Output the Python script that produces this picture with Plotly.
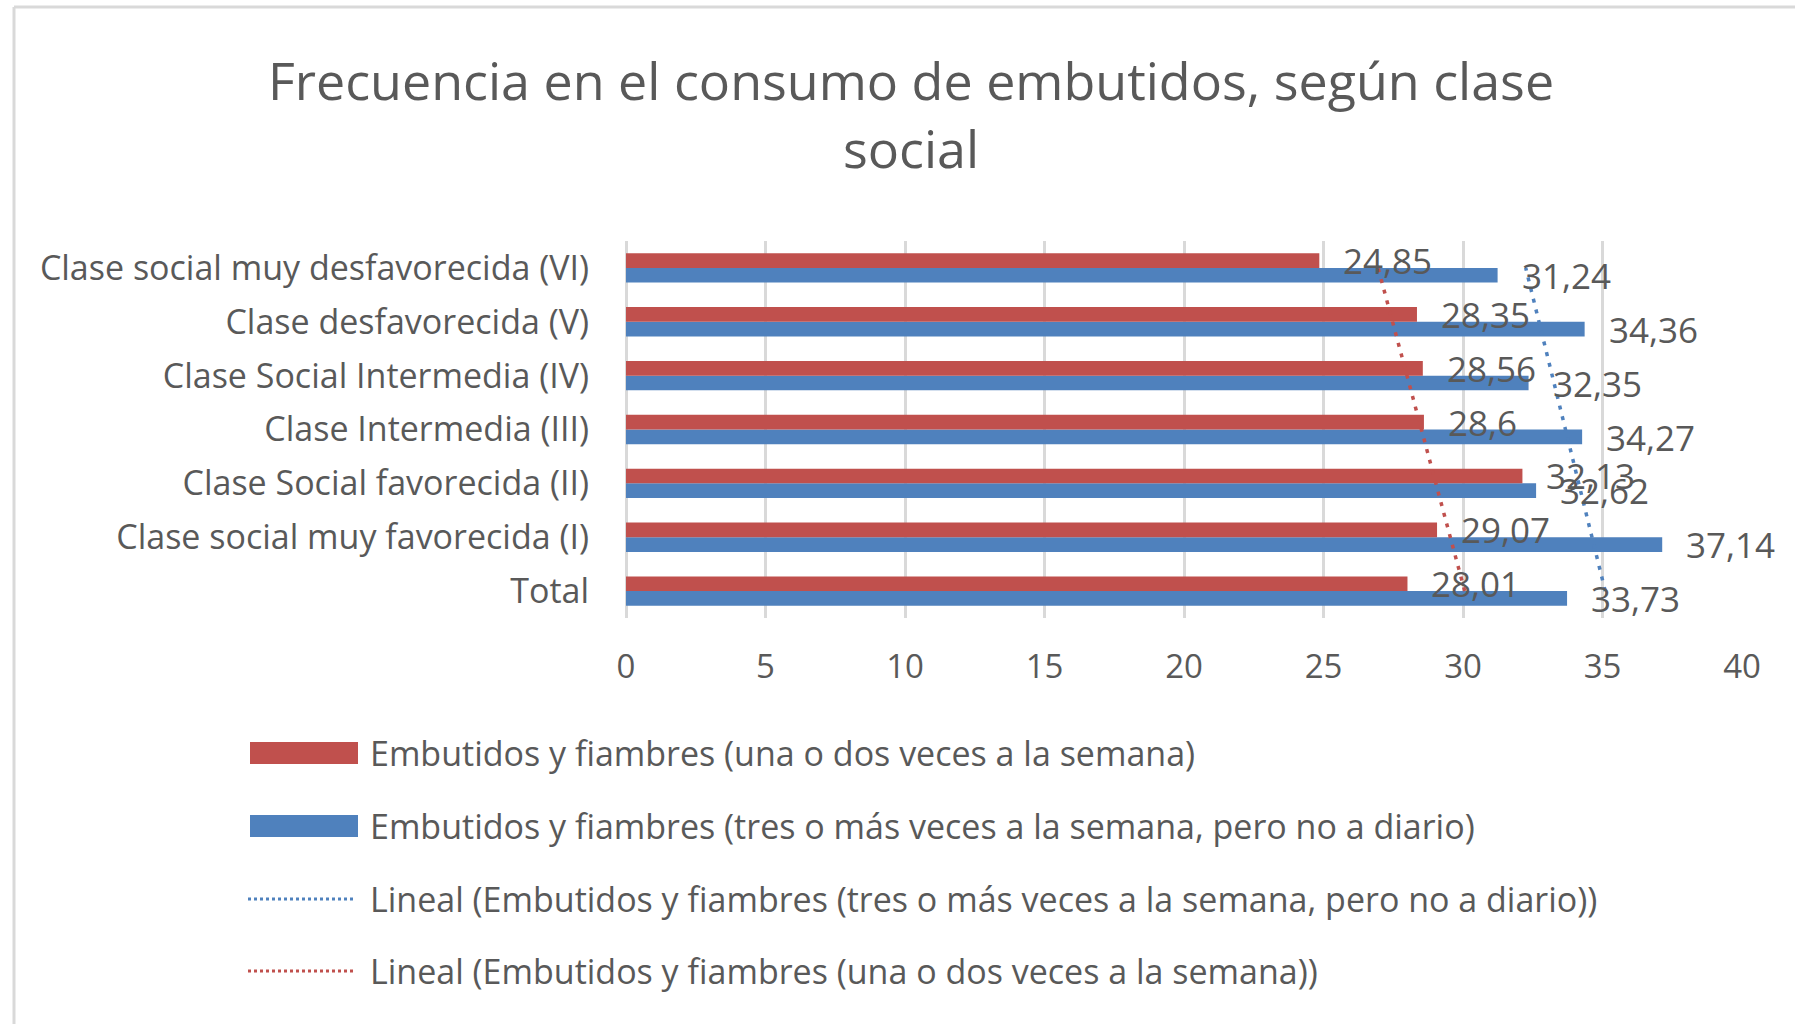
import numpy as np
import plotly.graph_objects as go

# ---------------- data ----------------
categories = [
    "Total",
    "Clase social muy favorecida (I)",
    "Clase Social favorecida (II)",
    "Clase Intermedia (III)",
    "Clase Social Intermedia (IV)",
    "Clase desfavorecida (V)",
    "Clase social muy desfavorecida (VI)",
]
una_dos = [28.01, 29.07, 32.13, 28.6, 28.56, 28.35, 24.85]
tres_mas = [33.73, 37.14, 32.62, 34.27, 32.35, 34.36, 31.24]
x_ticks = [0, 5, 10, 15, 20, 25, 30, 35, 40]

name_red = "Embutidos y fiambres (una o dos veces a la semana)"
name_blue = "Embutidos y fiambres (tres o más veces a la semana, pero no a diario)"
name_tr_blue = "Lineal (Embutidos y fiambres (tres o más veces a la semana, pero no a diario))"
name_tr_red = "Lineal (Embutidos y fiambres (una o dos veces a la semana))"
title_text = "Frecuencia en el consumo de embutidos, según clase<br>social"

# ---------------- style ----------------
RED = "#C0504D"
BLUE = "#4F81BD"
GRID = "#D9D9D9"
TXT = "#595959"
FONT = "Open Sans"
W, H = 1795, 1024
L, R, T, B = 626, 1742, 241, 618  # plot area in pixels


def px(x):
    return (x - L) / (R - L)


def py(y):
    return (B - y) / (B - T)


def fmt(v):
    return str(v).replace(".", ",")


# linear trendlines (as Excel: fit against category index)
idx = np.arange(1, len(categories) + 1)
s_r, i_r = np.polyfit(idx, una_dos, 1)
s_b, i_b = np.polyfit(idx, tres_mas, 1)
trend_red = s_r * idx + i_r
trend_blue = s_b * idx + i_b

fig = go.Figure()
fig.add_trace(go.Bar(y=categories, x=tres_mas, orientation="h", name=name_blue,
                     marker=dict(color=BLUE, line=dict(width=0)), showlegend=False))
fig.add_trace(go.Bar(y=categories, x=una_dos, orientation="h", name=name_red,
                     marker=dict(color=RED, line=dict(width=0)), showlegend=False))
fig.add_trace(go.Scatter(y=categories, x=trend_blue, mode="lines", name=name_tr_blue,
                         line=dict(color=BLUE, width=3.5, dash="4px,7px"), showlegend=False))
fig.add_trace(go.Scatter(y=categories, x=trend_red, mode="lines", name=name_tr_red,
                         line=dict(color=RED, width=3.5, dash="4px,7px"), showlegend=False))

annotations = []
half = 7.5
for c, vr, vb in zip(categories, una_dos, tres_mas):
    annotations.append(dict(x=vr, y=c, xref="x", yref="y", text=fmt(vr), showarrow=False,
                            xanchor="left", yanchor="middle", xshift=22, yshift=half,
                            font=dict(family=FONT, size=35, color=TXT)))
    annotations.append(dict(x=vb, y=c, xref="x", yref="y", text=fmt(vb), showarrow=False,
                            xanchor="left", yanchor="middle", xshift=22, yshift=-half,
                            font=dict(family=FONT, size=35, color=TXT)))

# manual legend (Excel style swatches)
shapes = []
legend_rows = [
    ("bar", RED, name_red, 753),
    ("bar", BLUE, name_blue, 826),
    ("line", BLUE, name_tr_blue, 899),
    ("line", RED, name_tr_red, 971),
]
for kind, col, label, yc in legend_rows:
    if kind == "bar":
        shapes.append(dict(type="rect", xref="paper", yref="paper",
                           x0=px(250), x1=px(358), y0=py(yc + 11), y1=py(yc - 11),
                           fillcolor=col, line=dict(width=0)))
    else:
        shapes.append(dict(type="line", xref="paper", yref="paper",
                           x0=px(248), x1=px(354), y0=py(yc), y1=py(yc),
                           line=dict(color=col, width=3, dash="dot")))
    annotations.append(dict(x=px(368), y=py(yc), xref="paper", yref="paper", text=label,
                            showarrow=False, xanchor="left", yanchor="middle",
                            font=dict(family=FONT, size=34, color=TXT)))

# chart frame (light grey border)
shapes.append(dict(type="line", xref="paper", yref="paper", x0=px(14), x1=px(1800),
                   y0=py(7), y1=py(7), line=dict(color=GRID, width=3), layer="below"))
shapes.append(dict(type="line", xref="paper", yref="paper", x0=px(14), x1=px(14),
                   y0=py(7), y1=py(1030), line=dict(color=GRID, width=3), layer="below"))

fig.update_layout(
    width=W, height=H,
    margin=dict(l=L, r=W - R, t=T, b=H - B, pad=0),
    paper_bgcolor="white", plot_bgcolor="white",
    barmode="group", bargap=0.455, bargroupgap=0,
    showlegend=False,
    title=dict(text=title_text, x=911 / W, xref="container", xanchor="center",
               y=1 - 100 / H, yref="container", yanchor="middle",
               font=dict(family=FONT, size=52, color=TXT)),
    font=dict(family=FONT, color=TXT),
    shapes=shapes,
    annotations=annotations,
)
fig.update_xaxes(range=[0, 40], tickvals=x_ticks, ticktext=[str(t) for t in x_ticks],
                 showgrid=True, gridcolor=GRID, gridwidth=3,
                 zeroline=True, zerolinecolor=GRID, zerolinewidth=3,
                 showline=False, ticks="", ticklabelstandoff=26,
                 tickfont=dict(family=FONT, size=33, color=TXT))
fig.update_yaxes(type="category", categoryorder="array", categoryarray=categories,
                 range=[-0.5, len(categories) - 0.5],
                 showgrid=False, zeroline=False, showline=False, ticks="",
                 ticklabelstandoff=36,
                 tickfont=dict(family=FONT, size=34, color=TXT))

fig.write_html("out.html", config={"displayModeBar": False},
               post_script="document.body.style.margin='0';")
